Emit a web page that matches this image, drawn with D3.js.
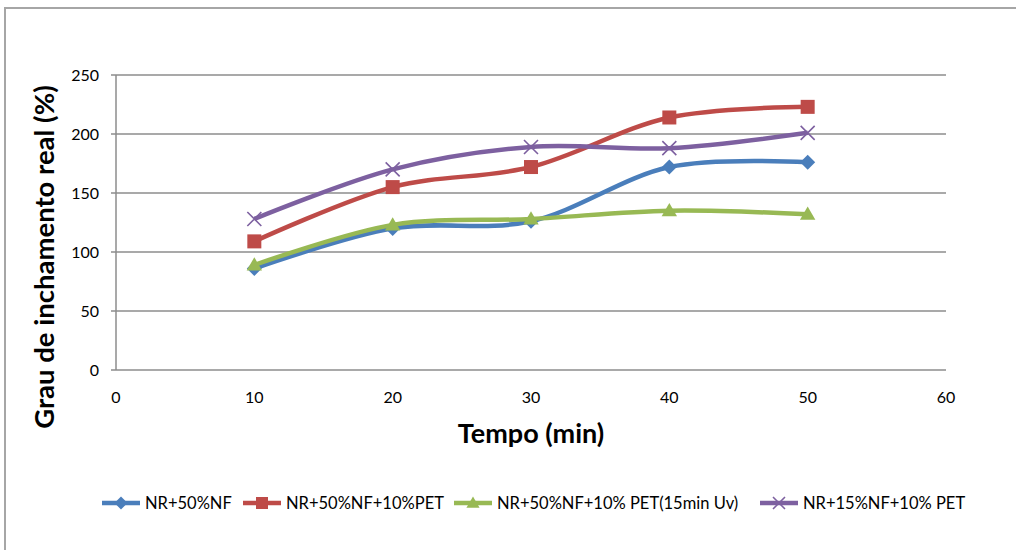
<!DOCTYPE html>
<html>
<head>
<meta charset="utf-8">
<script src="https://cdn.jsdelivr.net/npm/d3@7"></script>
<style>
  html, body { margin: 0; padding: 0; background: #fff; }
  svg { display: block; font-family: Lato, "Open Sans", sans-serif; }
</style>
</head>
<body>
<div id="chart"></div>
<script>
// dados (tempo em min, grau de inchamento %)
const tempos = [10, 20, 30, 40, 50];
const nr50nf = [86, 120, 126, 172, 176];
const nr50nfPet = [109, 155, 172, 214, 223];
const nr50nfPetUv = [89, 123, 128, 135, 132];
const nr15nfPet = [128, 170, 189, 188, 201];

const seriesNames = ["NR+50%NF", "NR+50%NF+10%PET", "NR+50%NF+10% PET(15min Uv)", "NR+15%NF+10% PET"];
const seriesColors = ["#4a7ebb", "#be4b48", "#98b954", "#7d60a0"];
const seriesMarkers = ["diamond", "square", "triangle", "cross"];
const seriesValues = [nr50nf, nr50nfPet, nr50nfPetUv, nr15nfPet];

const xTicks = [0, 10, 20, 30, 40, 50, 60];
const yTicks = [0, 50, 100, 150, 200, 250];

const W = 1016, H = 550;
const plot = { left: 116, right: 946, top: 75, bottom: 370 };

const svg = d3.select("#chart").append("svg").attr("width", W).attr("height", H);

// moldura externa
svg.append("rect")
  .attr("x", 5).attr("y", 8).attr("width", W + 20).attr("height", H + 20)
  .attr("fill", "none").attr("stroke", "#a6a6a6").attr("stroke-width", 2);

const x = d3.scaleLinear().domain([0, 60]).range([plot.left, plot.right]);
const y = d3.scaleLinear().domain([0, 250]).range([plot.bottom, plot.top]);

// grade horizontal
svg.append("g")
  .selectAll("line")
  .data(yTicks.filter((t) => t > 0))
  .join("line")
  .attr("x1", plot.left - 5).attr("x2", plot.right)
  .attr("y1", (d) => y(d)).attr("y2", (d) => y(d))
  .attr("stroke", "#8c8c8c").attr("stroke-width", 1.3);

// eixos
svg.append("line")
  .attr("x1", plot.left).attr("x2", plot.left)
  .attr("y1", plot.top).attr("y2", plot.bottom)
  .attr("stroke", "#8c8c8c").attr("stroke-width", 1.5);
svg.append("line")
  .attr("x1", plot.left - 5).attr("x2", plot.right)
  .attr("y1", plot.bottom).attr("y2", plot.bottom)
  .attr("stroke", "#8c8c8c").attr("stroke-width", 1.5);

svg.append("g")
  .selectAll("text")
  .data(yTicks)
  .join("text")
  .attr("x", 99).attr("y", (d) => y(d) + 6)
  .attr("text-anchor", "end").attr("font-size", 16).attr("fill", "#000")
  .text((d) => d);

svg.append("g")
  .selectAll("text")
  .data(xTicks)
  .join("text")
  .attr("x", (d) => x(d)).attr("y", 403)
  .attr("text-anchor", "middle").attr("font-size", 16).attr("fill", "#000")
  .text((d) => d);

// titulos dos eixos
svg.append("text")
  .attr("x", x(30)).attr("y", 443)
  .attr("text-anchor", "middle").attr("font-size", 27).attr("font-weight", 700)
  .text("Tempo (min)");
svg.append("text")
  .attr("transform", "translate(54,257) rotate(-90)")
  .attr("text-anchor", "middle").attr("font-size", 27.5).attr("font-weight", 700)
  .text("Grau de inchamento real (%)");

function drawMarker(g, kind, color, s) {
  if (kind === "diamond") {
    g.append("path").attr("d", `M0,${-s}L${s},0L0,${s}L${-s},0Z`).attr("fill", color);
  } else if (kind === "square") {
    g.append("rect").attr("x", -s).attr("y", -s).attr("width", 2 * s).attr("height", 2 * s).attr("fill", color);
  } else if (kind === "triangle") {
    g.append("path").attr("d", `M0,${-s * 1.1}L${s * 1.1},${s * 0.8}L${-s * 1.1},${s * 0.8}Z`).attr("fill", color);
  } else {
    g.append("path").attr("d", `M${-s},${-s}L${s},${s}M${-s},${s}L${s},${-s}`)
      .attr("stroke", color).attr("stroke-width", 1.6).attr("fill", "none");
  }
}

const sizes = { diamond: 7.5, square: 7, triangle: 7, cross: 7 };

const line = d3.line()
  .x((d) => x(d[0]))
  .y((d) => y(d[1]))
  .curve(d3.curveCardinal.tension(0));

seriesValues.forEach((vals, i) => {
  const pts = tempos.map((t, j) => [t, vals[j]]);
  svg.append("path")
    .attr("d", line(pts))
    .attr("fill", "none")
    .attr("stroke", seriesColors[i])
    .attr("stroke-width", 4.5)
    .attr("stroke-linejoin", "round");
  pts.forEach((p) => {
    const g = svg.append("g").attr("transform", `translate(${x(p[0])},${y(p[1])})`);
    drawMarker(g, seriesMarkers[i], seriesColors[i], sizes[seriesMarkers[i]]);
  });
});

// legenda
const legendX = [102, 243, 454, 760];
const legend = svg.append("g");
seriesNames.forEach((name, i) => {
  const lx = legendX[i], ly = 503;
  legend.append("line")
    .attr("x1", lx).attr("x2", lx + 38).attr("y1", ly).attr("y2", ly)
    .attr("stroke", seriesColors[i]).attr("stroke-width", 4.5);
  const g = legend.append("g").attr("transform", `translate(${lx + 19},${ly})`);
  drawMarker(g, seriesMarkers[i], seriesColors[i], sizes[seriesMarkers[i]] - 1);
  legend.append("text")
    .attr("x", lx + 43).attr("y", ly + 6)
    .attr("font-size", 16.5).attr("fill", "#000")
    .text(name);
});
</script>
</body>
</html>
